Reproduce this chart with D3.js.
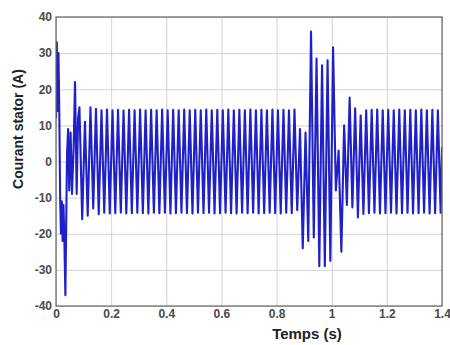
<!DOCTYPE html>
<html lang="fr">
<head>
<meta charset="UTF-8">
<title>Courant stator</title>
<script src="https://d3js.org/d3.v7.min.js"></script>
<style>
  body { margin: 0; background: #fff; }
  .tick text { font-family: Arial, "Liberation Sans", sans-serif; font-size: 12px; font-weight: bold; fill: #4a4a4a; }
  .grid line { stroke: #d4d4d4; stroke-width: 1; }
  .grid path { display: none; }
  .lbl path, .lbl line { display: none; }
  .title { font-family: Arial, "Liberation Sans", sans-serif; font-weight: bold; fill: #222; }
</style>
</head>
<body>
<div id="chart"></div>
<script>
// [temps (s), courant (A)] - demarrage
const startup = [
  [0.000, 12], [0.003, 33], [0.006, 14], [0.009, 30], [0.012, 13],
  [0.015, -10], [0.018, -20], [0.021, -11], [0.024, -22], [0.027, -12],
  [0.030, -20], [0.034, -37], [0.040, 2], [0.044, 9], [0.048, -8],
  [0.053, 8], [0.058, -9], [0.064, 4], [0.069, 22], [0.075, -9],
  [0.080, 12]
];

// regime permanent avant la perturbation
const steady1 = [
  [0.085, 15], [0.095, -16], [0.105, 11], [0.115, -15], [0.125, 15],
  [0.135, -13], [0.145, 14.6], [0.155, -14.6], [0.165, 14.2], [0.175, -14.2],
  [0.185, 14.4], [0.195, -14.4], [0.205, 14.2], [0.215, -14.3], [0.225, 14.3],
  [0.235, -14.2], [0.245, 14.1], [0.255, -14.4], [0.265, 14.3], [0.275, -14.3],
  [0.285, 14.2], [0.295, -14.2], [0.305, 14.4], [0.315, -14.3], [0.325, 14.2],
  [0.335, -14.4], [0.345, 14.3], [0.355, -14.2], [0.365, 14.2], [0.375, -14.3],
  [0.385, 14.4], [0.395, -14.2], [0.405, 14.2], [0.415, -14.4], [0.425, 14.3],
  [0.435, -14.3], [0.445, 14.2], [0.455, -14.2], [0.465, 14.4], [0.475, -14.3],
  [0.485, 14.2], [0.495, -14.4], [0.505, 14.3], [0.515, -14.2], [0.525, 14.2],
  [0.535, -14.3], [0.545, 14.4], [0.555, -14.2], [0.565, 14.2], [0.575, -14.4],
  [0.585, 14.3], [0.595, -14.3], [0.605, 14.2], [0.615, -14.2], [0.625, 14.4],
  [0.635, -14.3], [0.645, 14.2], [0.655, -14.4], [0.665, 14.3], [0.675, -14.2],
  [0.685, 14.2], [0.695, -14.3], [0.705, 14.4], [0.715, -14.2], [0.725, 14.2],
  [0.735, -14.4], [0.745, 14.3], [0.755, -14.3], [0.765, 14.2], [0.775, -14.2],
  [0.785, 14.4], [0.795, -14.3], [0.805, 14.2], [0.815, -14.4], [0.825, 14.3],
  [0.835, -14.2], [0.845, 14.2], [0.855, -14.3], [0.865, 14.4], [0.875, -13.5]
];

// perturbation de charge
const fault = [
  [0.885, 9], [0.895, -24], [0.905, 8], [0.915, -22], [0.925, 36],
  [0.935, -21], [0.945, 28.5], [0.955, -29], [0.965, 26.6], [0.975, -29],
  [0.985, 28], [0.995, -27.5], [1.005, 31.6], [1.015, -8], [1.025, 3],
  [1.035, -25], [1.045, 10], [1.055, -12], [1.065, 17.7], [1.075, -12.7],
  [1.085, 14.7], [1.095, -15.5], [1.105, 12.7], [1.115, -14.5]
];

// regime permanent apres la perturbation
const steady2 = [
  [1.125, 14.2], [1.135, -14.3], [1.145, 14.3], [1.155, -14.2], [1.165, 14.4],
  [1.175, -14.4], [1.185, 14.2], [1.195, -14.3], [1.205, 14.3], [1.215, -14.2],
  [1.225, 14.2], [1.235, -14.4], [1.245, 14.4], [1.255, -14.3], [1.265, 14.2],
  [1.275, -14.2], [1.285, 14.3], [1.295, -14.4], [1.305, 14.2], [1.315, -14.3],
  [1.325, 14.4], [1.335, -14.2], [1.345, 14.2], [1.355, -14.4], [1.365, 14.3],
  [1.375, -14.3], [1.385, 14.2], [1.395, -14.2], [1.400, 4]
];

const xTicks = [0, 0.2, 0.4, 0.6, 0.8, 1, 1.2, 1.4];
const yTicks = [-40, -30, -20, -10, 0, 10, 20, 30, 40];

const W = 450, H = 345;
const m = { left: 56, right: 442, top: 17, bottom: 306 };

const svg = d3.select("#chart").append("svg")
  .attr("width", W)
  .attr("height", H);

const x = d3.scaleLinear().domain([0, 1.4]).range([m.left, m.right]);
const y = d3.scaleLinear().domain([-40, 40]).range([m.bottom, m.top]);

// grille
svg.append("g")
  .attr("class", "grid")
  .attr("transform", `translate(0,${m.bottom})`)
  .call(d3.axisBottom(x).tickValues(xTicks).tickSize(-(m.bottom - m.top)).tickFormat(""));
svg.append("g")
  .attr("class", "grid")
  .attr("transform", `translate(${m.left},0)`)
  .call(d3.axisLeft(y).tickValues(yTicks).tickSize(-(m.right - m.left)).tickFormat(""));

// signal
const data = startup.concat(steady1, fault, steady2);
svg.append("clipPath").attr("id", "clip")
  .append("rect").attr("x", m.left).attr("y", m.top)
  .attr("width", m.right - m.left).attr("height", m.bottom - m.top);

svg.append("path")
  .datum(data)
  .attr("clip-path", "url(#clip)")
  .attr("fill", "none")
  .attr("stroke", "#2020c8")
  .attr("stroke-width", 2.1)
  .attr("stroke-linejoin", "round")
  .attr("d", d3.line().x(d => x(d[0])).y(d => y(d[1])));

// cadre
svg.append("rect")
  .attr("x", m.left).attr("y", m.top)
  .attr("width", m.right - m.left).attr("height", m.bottom - m.top)
  .attr("fill", "none")
  .attr("stroke", "#666")
  .attr("stroke-width", 1.2);

// etiquettes des axes
svg.append("g")
  .attr("class", "lbl")
  .attr("transform", `translate(0,${m.bottom})`)
  .call(d3.axisBottom(x).tickValues(xTicks).tickSize(0).tickPadding(3).tickFormat(d => String(d)));
svg.append("g")
  .attr("class", "lbl")
  .attr("transform", `translate(${m.left},0)`)
  .call(d3.axisLeft(y).tickValues(yTicks).tickSize(0).tickPadding(4).tickFormat(d => String(d)));

svg.append("text")
  .attr("class", "title")
  .attr("x", 307).attr("y", 339)
  .attr("text-anchor", "middle")
  .attr("font-size", 15)
  .text("Temps (s)");

svg.append("text")
  .attr("class", "title")
  .attr("transform", "translate(23,129) rotate(-90)")
  .attr("text-anchor", "middle")
  .attr("font-size", 14)
  .text("Courant stator (A)");
</script>
</body>
</html>
